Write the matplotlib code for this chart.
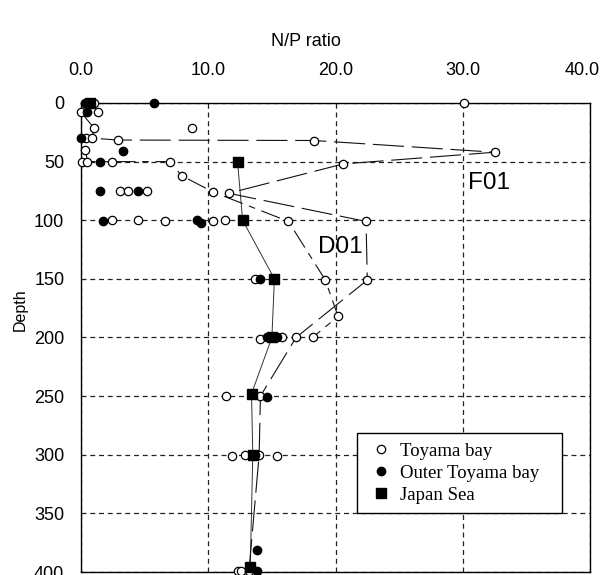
import numpy as np
import matplotlib
matplotlib.use('Agg')
import matplotlib.pyplot as plt
import matplotlib.transforms as mtransforms

# ─── Data (N/P ratio vs depth) ─────────────────────────────
# Toyama bay (open circles)
toyama_np = [0.5, 1.0, 30.1,
             0.0, 1.3,
             1.0, 8.7,
             0.4, 0.9, 2.9, 18.3,
             0.35, 32.5,
             0.1, 0.5, 2.45, 7.0, 20.6,
             7.9,
             3.1, 3.7, 5.2, 10.4, 11.6,
             2.4, 4.5, 6.6, 10.4, 11.3, 16.3, 22.4,
             13.7, 19.2, 22.5,
             20.2,
             14.1, 15.8, 16.9, 18.2,
             11.4, 14.1,
             11.9, 12.9, 14.0, 15.4,
             12.3, 12.55, 13.2]
toyama_depth = [0, 0, 0,
                8, 8,
                21, 21,
                30, 30, 31.6, 32,
                40, 42,
                50, 50, 50, 50, 52,
                62,
                75, 75, 75, 76, 77,
                100, 100, 101, 101, 100, 101, 101,
                150, 151, 151,
                182,
                201, 200, 200, 200,
                250, 250,
                301, 300, 300, 301,
                399, 399, 399]

# Outer Toyama bay (filled circles)
outer_np = [0.3, 5.7, 0.5, 0.0, 3.3, 1.5, 1.5, 4.5,
            1.75, 9.1, 9.4, 14.1, 14.6, 15.4, 14.6, 13.7, 13.85, 13.85]
outer_depth = [0, 0, 8, 30, 41, 50, 75, 75,
               101, 100, 102.6, 150, 200, 200, 251, 300, 381, 399]

# Japan Sea (filled squares)
japan_np = [0.7, 12.3, 12.7, 15.2, 15.0, 13.4, 13.5, 13.3]
japan_depth = [0, 50, 100, 150, 200, 248, 300, 396]

# Station profiles
f01_np = [0.0, 1.0, 0.9, 2.9, 18.3, 32.5, 20.6, 11.6, 22.4, 22.5,
          16.9, 14.1, 14.0, 13.2]
f01_depth = [8, 21, 30, 31.6, 32, 42, 52, 77, 101, 151,
             200, 250, 300, 399]

d01_np = [0.35, 0.5, 2.45, 7.0, 7.9, 10.4, 16.3, 19.2, 20.2, 18.2]
d01_depth = [40, 50, 50, 50, 62, 76, 101, 151, 182, 200]

xticks = [0, 10, 20, 30, 40]
yticks = [0, 50, 100, 150, 200, 250, 300, 350, 400]

# ─── Plot ──────────────────────────────────────────────────
plt.rcParams['font.family'] = ['Liberation Sans', 'DejaVu Sans']

fig = plt.figure(figsize=(6.05, 5.75), dpi=100)
ax = fig.add_axes([0.1339, 0.0052, 0.8413, 0.8157])

# profile lines
ax.plot(japan_np[1:], japan_depth[1:], color='#333333', lw=0.7, zorder=2)
ax.plot(f01_np, f01_depth, color='#111111', lw=0.8,
        linestyle=(0, (28, 7)), zorder=2)
ax.plot(d01_np, d01_depth, color='#111111', lw=0.8,
        linestyle=(0, (18, 6, 6, 6)), zorder=2)

# markers
ax.plot(toyama_np, toyama_depth, 'o', ms=6, mfc='white', mec='black',
        mew=0.9, ls='none', label='Toyama bay', zorder=3, clip_on=False)
ax.plot(outer_np, outer_depth, 'o', ms=6, mfc='black', mec='black',
        ls='none', label='Outer Toyama bay', zorder=4, clip_on=False)
ax.plot(japan_np, japan_depth, 's', ms=6.5, mfc='black', mec='black',
        ls='none', label='Japan Sea', zorder=5, clip_on=False)

# station labels
ax.text(30.4, 68, 'F01', fontsize=17.5, ha='left', va='center')
ax.text(18.6, 123, 'D01', fontsize=17.5, ha='left', va='center')

# axes
ax.set_xlim(0, 40)
ax.set_ylim(400, 0)
ax.xaxis.tick_top()
ax.set_xticks(xticks)
ax.set_xticklabels([f'{v:.1f}' for v in xticks])
ax.set_yticks(yticks)
ax.tick_params(axis='x', length=0, pad=17, labelsize=13)
ax.tick_params(axis='y', length=0, pad=12, labelsize=13)
ax.grid(True, color='#222222', lw=0.9, linestyle=(0, (4, 3)))
for sp in ax.spines.values():
    sp.set_linewidth(1.0)
    sp.set_color('black')

# last top label sits a little inside the edge
last = ax.get_xticklabels()[-1]
last.set_transform(last.get_transform() +
                   mtransforms.ScaledTranslation(-8 / 100, 0, fig.dpi_scale_trans))

ax.set_ylabel('Depth', fontsize=11.5)
ax.yaxis.set_label_coords(-0.105, 0.56)

fig.text(0.506, 0.928, 'N/P ratio', fontsize=13, ha='center', va='center')

leg = ax.legend(loc='lower left', bbox_to_anchor=(0.542, 0.126, 0.403, 0.17),
                mode='expand',
                prop={'family': 'Liberation Serif', 'size': 13.5},
                frameon=True, fancybox=False, edgecolor='black',
                framealpha=1, borderaxespad=0, labelspacing=0.25,
                handletextpad=0.2, handlelength=1.6, borderpad=0.5)
leg.get_frame().set_linewidth(1.0)

plt.savefig('out.png', dpi=100)
